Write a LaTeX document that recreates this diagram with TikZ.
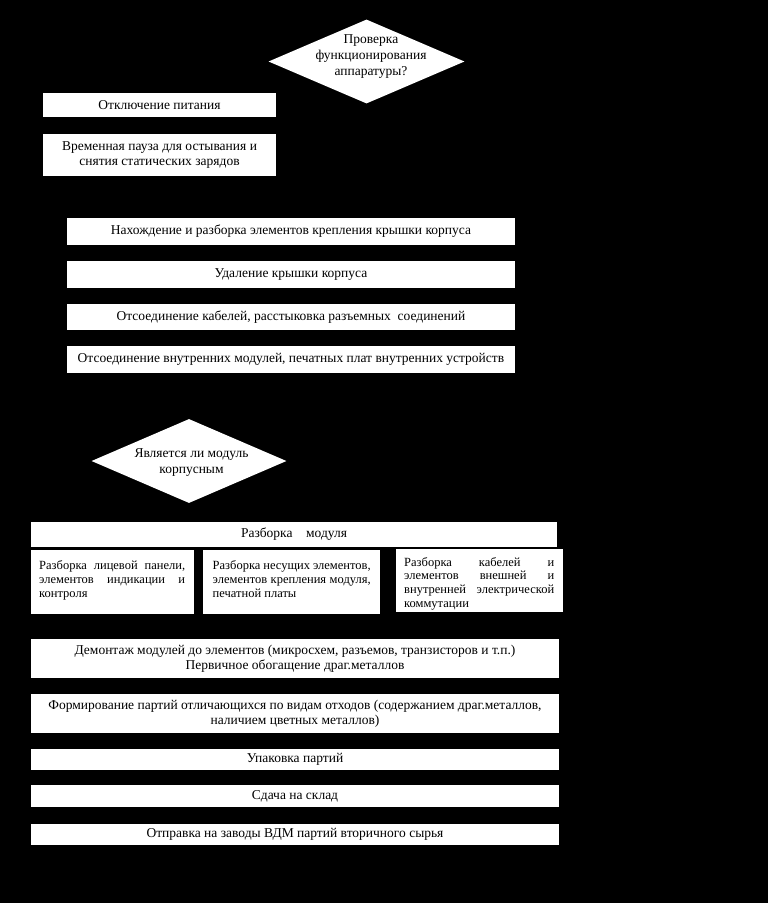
\documentclass[tikz,border=0pt]{standalone}
\usepackage{fontspec}
\setmainfont{Liberation Serif}
\usepackage{tikz}
\usetikzlibrary{shapes.geometric}

\begin{document}
\begin{tikzpicture}[x=1pt, y=-1pt,
    procbox/.style={fill=white, draw=none, inner sep=0pt, align=center,
                    font=\fontsize{13.5}{15.5}\selectfont},
    decision/.style={diamond, fill=white, draw=none, inner sep=0pt},
    dectext/.style={align=center, inner sep=0pt, font=\fontsize{13.5}{16}\selectfont},
    subtext/.style={align=justify, inner sep=0pt, anchor=north west,
                    font=\fontsize{12.5}{13.7}\selectfont}]
  \fill[black] (0,0) rectangle (768,903);
  \useasboundingbox (0,0) rectangle (768,903);

  % first check and preparation
  \node[decision, minimum width=196pt, minimum height=84pt] (chk) at (366.5,61.5) {};
  \node[dectext] (chkt) at (371,57) {Проверка\\функционирования\\аппаратуры?};
  \node[procbox, minimum width=233pt, minimum height=24pt] (power) at (159.5,105) {Отключение питания};
  \node[procbox, minimum width=233pt, minimum height=42pt] (pause) at (159.5,155)
       {Временная пауза для остывания и\\снятия статических зарядов};

  % opening the case
  \node[procbox, minimum width=448pt, minimum height=27pt] (fix) at (291,231.5)
       {Нахождение и разборка элементов крепления крышки корпуса};
  \node[procbox, minimum width=448pt, minimum height=27pt] (cover) at (291,274.5)
       {Удаление крышки корпуса};
  \node[procbox, minimum width=448pt, minimum height=26pt] (cable) at (291,317)
       {Отсоединение кабелей, расстыковка разъемных\ \ соединений};
  \node[procbox, minimum width=448pt, minimum height=27pt] (inner) at (291,359.5)
       {Отсоединение внутренних модулей, печатных плат внутренних устройств};

  % module
  \node[decision, minimum width=195pt, minimum height=84pt] (case) at (189,461) {};
  \node[dectext] (caset) at (191.5,463) {Является ли модуль\\корпусным};
  \node[procbox, minimum width=526pt, minimum height=25pt] (dis) at (294,534.5)
       {Разборка\quad модуля};
  \node[procbox, minimum width=163.5pt, minimum height=64pt] (dis1) at (112.7,582) {};
  \node[procbox, minimum width=177pt, minimum height=64pt] (dis2) at (291,582) {};
  \node[procbox, minimum width=167.3pt, minimum height=63pt] (dis3) at (479.4,580.5) {};
  \node[subtext, text width=146pt] (dis1t) at (39,560.5)
       {Разборка лицевой панели,\linebreak элементов индикации и\linebreak контроля};
  \node[subtext, text width=158pt] (dis2t) at (212.5,560.5)
       {Разборка несущих элементов,\linebreak элементов крепления модуля,\linebreak печатной платы};
  \node[subtext, text width=150pt] (dis3t) at (404,557)
       {Разборка кабелей и\linebreak элементов внешней и\linebreak внутренней электрической\linebreak коммутации};

  % final steps
  \node[procbox, minimum width=528pt, minimum height=39pt] (demont) at (295,658.5)
       {Демонтаж модулей до элементов (микросхем, разъемов, транзисторов и т.п.)\\Первичное обогащение драг.металлов};
  \node[procbox, minimum width=528pt, minimum height=39pt] (batch) at (295,713.5)
       {Формирование партий отличающихся по видам отходов (содержанием драг.металлов,\\наличием цветных металлов)};
  \node[procbox, minimum width=528pt, minimum height=21pt] (pack) at (295,759.5)
       {Упаковка партий};
  \node[procbox, minimum width=528pt, minimum height=22pt] (store) at (295,796)
       {Сдача на склад};
  \node[procbox, minimum width=528pt, minimum height=21pt] (ship) at (295,834.5)
       {Отправка на заводы ВДМ партий вторичного сырья};
\end{tikzpicture}
\end{document}
